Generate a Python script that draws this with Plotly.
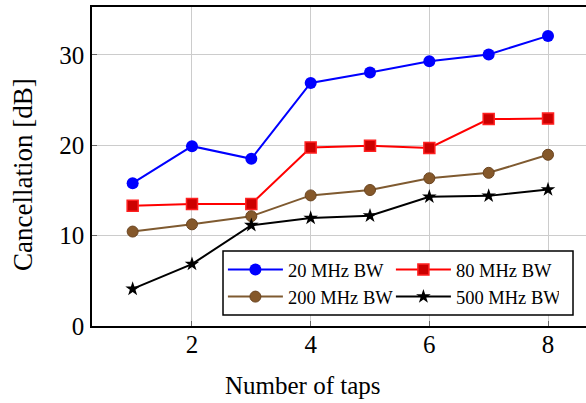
import plotly.graph_objects as go

taps = [1, 2, 3, 4, 5, 6, 7, 8]
bw20 = [15.8, 19.9, 18.5, 26.9, 28.05, 29.3, 30.05, 32.1]
bw80 = [13.3, 13.5, 13.5, 19.75, 19.95, 19.7, 22.9, 22.95]
bw200 = [10.45, 11.25, 12.15, 14.45, 15.05, 16.35, 16.95, 18.95]
bw500 = [4.1, 6.85, 11.15, 11.95, 12.2, 14.3, 14.4, 15.1]

names = ["20 MHz BW", "80 MHz BW", "200 MHz BW", "500 MHz BW"]
xticks = [2, 4, 6, 8]
yticks = [0, 10, 20, 30]
xtitle = "Number of taps"
ytitle = "Cancellation [dB]"

FONT = "Liberation Serif"

fig = go.Figure()
fig.add_trace(go.Scatter(x=taps, y=bw20, name=names[0], mode="lines+markers",
                         line=dict(color="#0000ff", width=2),
                         marker=dict(symbol="circle", size=12, color="#0000ff")))
fig.add_trace(go.Scatter(x=taps, y=bw80, name=names[1], mode="lines+markers",
                         line=dict(color="#ff0000", width=2),
                         marker=dict(symbol="square", size=11, color="#cc0000",
                                     line=dict(color="#ff2020", width=1.5))))
fig.add_trace(go.Scatter(x=taps, y=bw200, name=names[2], mode="lines+markers",
                         line=dict(color="#7f5a30", width=2),
                         marker=dict(symbol="circle", size=11, color="#85582a",
                                     line=dict(color="#6a4420", width=1))))
fig.add_trace(go.Scatter(x=taps, y=bw500, name=names[3], mode="lines+markers",
                         line=dict(color="#000000", width=2),
                         marker=dict(symbol="star", size=11, color="#000000")))

fig.update_layout(
    width=586, height=403,
    margin=dict(l=92, r=0, t=7, b=77, autoexpand=False),
    paper_bgcolor="white", plot_bgcolor="white",
    font=dict(family=FONT, color="black"),
    showlegend=True,
    legend=dict(
        orientation="h", x=0.265, y=0.235, xanchor="left", yanchor="top",
        bgcolor="rgba(0,0,0,0)", borderwidth=0,
        font=dict(family=FONT, size=18.5),
        entrywidth=98, entrywidthmode="pixels",
        tracegroupgap=0, itemwidth=55,
    ),
    shapes=[
        dict(type="rect", xref="paper", yref="paper",
             x0=0.2652, x1=0.9737, y0=0.0345, y1=0.2351,
             fillcolor="white", line=dict(color="black", width=1.5), layer="above"),
    ],
    xaxis=dict(
        range=[0.315, 8.64], tickvals=xticks, ticktext=[str(v) for v in xticks],
        showgrid=True, gridcolor="#cccccc", gridwidth=1,
        showline=True, linecolor="black", linewidth=1.5, mirror=True,
        ticks="inside", ticklen=5, tickcolor="#666666",
        tickfont=dict(family=FONT, size=25), ticklabelstandoff=-5,
        zeroline=False, automargin=False,
    ),
    yaxis=dict(
        range=[0, 35.3], tickvals=yticks, ticktext=[str(v) for v in yticks],
        showgrid=True, gridcolor="#cccccc", gridwidth=1,
        showline=True, linecolor="black", linewidth=1.5, mirror=False,
        ticks="inside", ticklen=5, tickcolor="#666666",
        tickfont=dict(family=FONT, size=25), ticklabelstandoff=1,
        zeroline=False, automargin=False,
    ),
    annotations=[
        dict(text=xtitle, xref="paper", yref="paper", x=0.427, y=-0.185,
             xanchor="center", yanchor="middle", showarrow=False,
             font=dict(family=FONT, size=25)),
        dict(text=ytitle, xref="paper", yref="paper", x=-0.1397, y=0.4765,
             xanchor="center", yanchor="middle", showarrow=False, textangle=-90,
             font=dict(family=FONT, size=27)),
    ],
)

fig.write_html("out.html")
